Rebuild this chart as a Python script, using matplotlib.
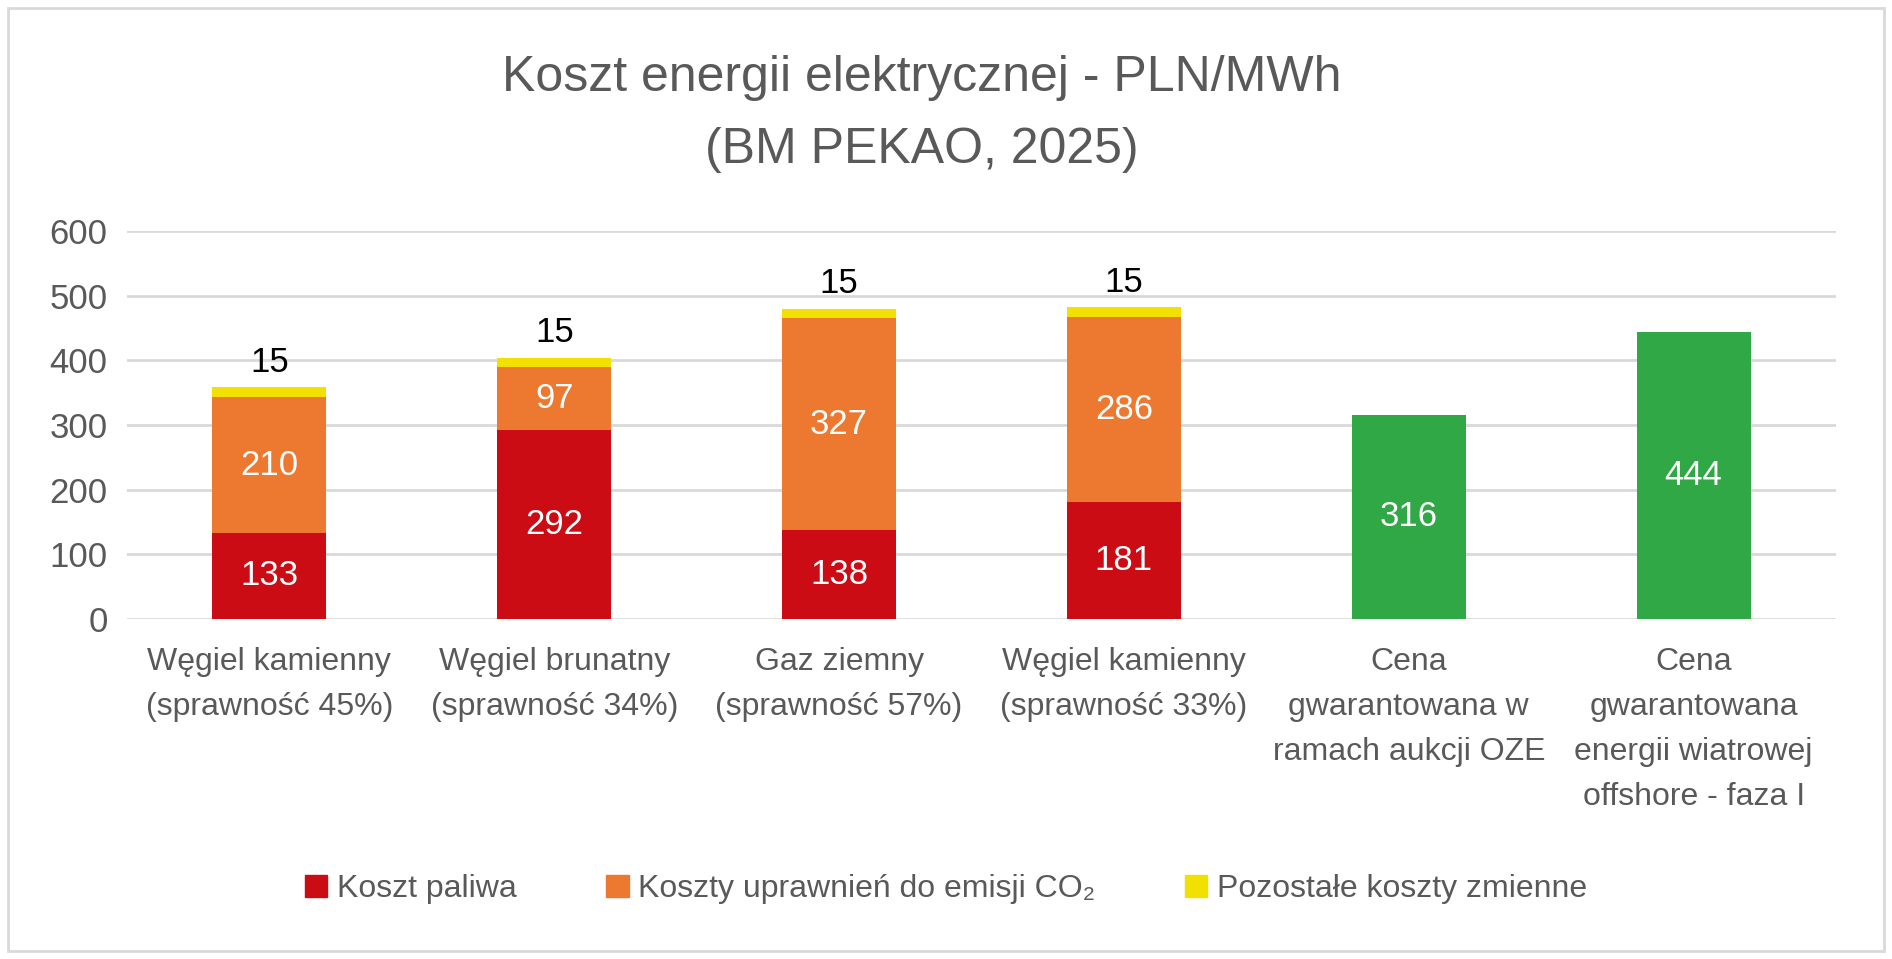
import matplotlib
matplotlib.use('Agg')
import matplotlib.pyplot as plt
from matplotlib.patches import Rectangle, Patch

# dane z wykresu (PLN/MWh)
kategorie = ['Węgiel kamienny\n(sprawność 45%)', 'Węgiel brunatny\n(sprawność 34%)',
             'Gaz ziemny\n(sprawność 57%)', 'Węgiel kamienny\n(sprawność 33%)',
             'Cena\ngwarantowana w\nramach aukcji OZE',
             'Cena\ngwarantowana\nenergii wiatrowej\noffshore - faza I']
koszt_paliwa = [133, 292, 138, 181]
koszt_co2 = [210, 97, 327, 286]
pozostale = [15, 15, 15, 15]
ceny_gwarantowane = [316, 444]

CZERWONY = '#CB0C15'
POMARANCZ = '#ED7830'
ZOLTY = '#F2E000'
ZIELONY = '#31A846'
SZARY = '#595959'

plt.rcParams['font.family'] = ['Liberation Sans', 'DejaVu Sans']

W, H = 1892, 959
fig = plt.figure(figsize=(W / 100, H / 100), dpi=100)
ax = fig.add_axes([127 / W, 1 - 619 / H, (1836 - 127) / W, (619 - 231) / H])

x_kop = list(range(len(koszt_paliwa)))
x_oze = [len(koszt_paliwa) + i for i in range(len(ceny_gwarantowane))]
szer = 0.4

b1 = ax.bar(x_kop, koszt_paliwa, szer, color=CZERWONY, zorder=3)
b2 = ax.bar(x_kop, koszt_co2, szer, bottom=koszt_paliwa, color=POMARANCZ, zorder=3)
dol = [a + b for a, b in zip(koszt_paliwa, koszt_co2)]
b3 = ax.bar(x_kop, pozostale, szer, bottom=dol, color=ZOLTY, zorder=3)
b4 = ax.bar(x_oze, ceny_gwarantowane, szer, color=ZIELONY, zorder=3)

for b in (b1, b2, b4):
    ax.bar_label(b, label_type='center', color='white', fontsize=25)
ax.bar_label(b3, labels=[str(v) for v in pozostale], padding=6, color='black', fontsize=25)

ax.set_xlim(-0.5, 5.5)
ax.set_ylim(0, 600)
ax.set_yticks(range(0, 601, 100))
ax.set_xticks(x_kop + x_oze)
ax.set_xticklabels(kategorie, linespacing=1.66)
ax.tick_params(axis='y', length=0, pad=14, labelsize=25, labelcolor=SZARY)
ax.tick_params(axis='x', length=0, pad=20, labelsize=23, labelcolor=SZARY)
for s in ax.spines.values():
    s.set_visible(False)
ax.grid(axis='y', color='#D9D9D9', linewidth=2, zorder=0)
ax.set_axisbelow(True)

fig.text(0.487, 1 - 55 / H, 'Koszt energii elektrycznej - PLN/MWh\n(BM PEKAO, 2025)',
         ha='center', va='top', fontsize=36, color=SZARY, linespacing=1.72)

uchwyty = [Patch(color=CZERWONY), Patch(color=POMARANCZ), Patch(color=ZOLTY)]
etykiety = ['Koszt paliwa', 'Koszty uprawnień do emisji CO₂', 'Pozostałe koszty zmienne']
fig.legend(uchwyty, etykiety, loc='center', bbox_to_anchor=(0.5, 1 - 889 / H), ncol=3,
           frameon=False, fontsize=23, labelcolor=SZARY, handlelength=0.7, handleheight=0.7,
           handletextpad=0.3, columnspacing=2.8)

fig.patches.append(Rectangle((8 / W, 8 / H), 1 - 16 / W, 1 - 16 / H, transform=fig.transFigure,
                             fill=False, edgecolor='#D9D9D9', linewidth=2))

fig.savefig('out.png', dpi=100)
